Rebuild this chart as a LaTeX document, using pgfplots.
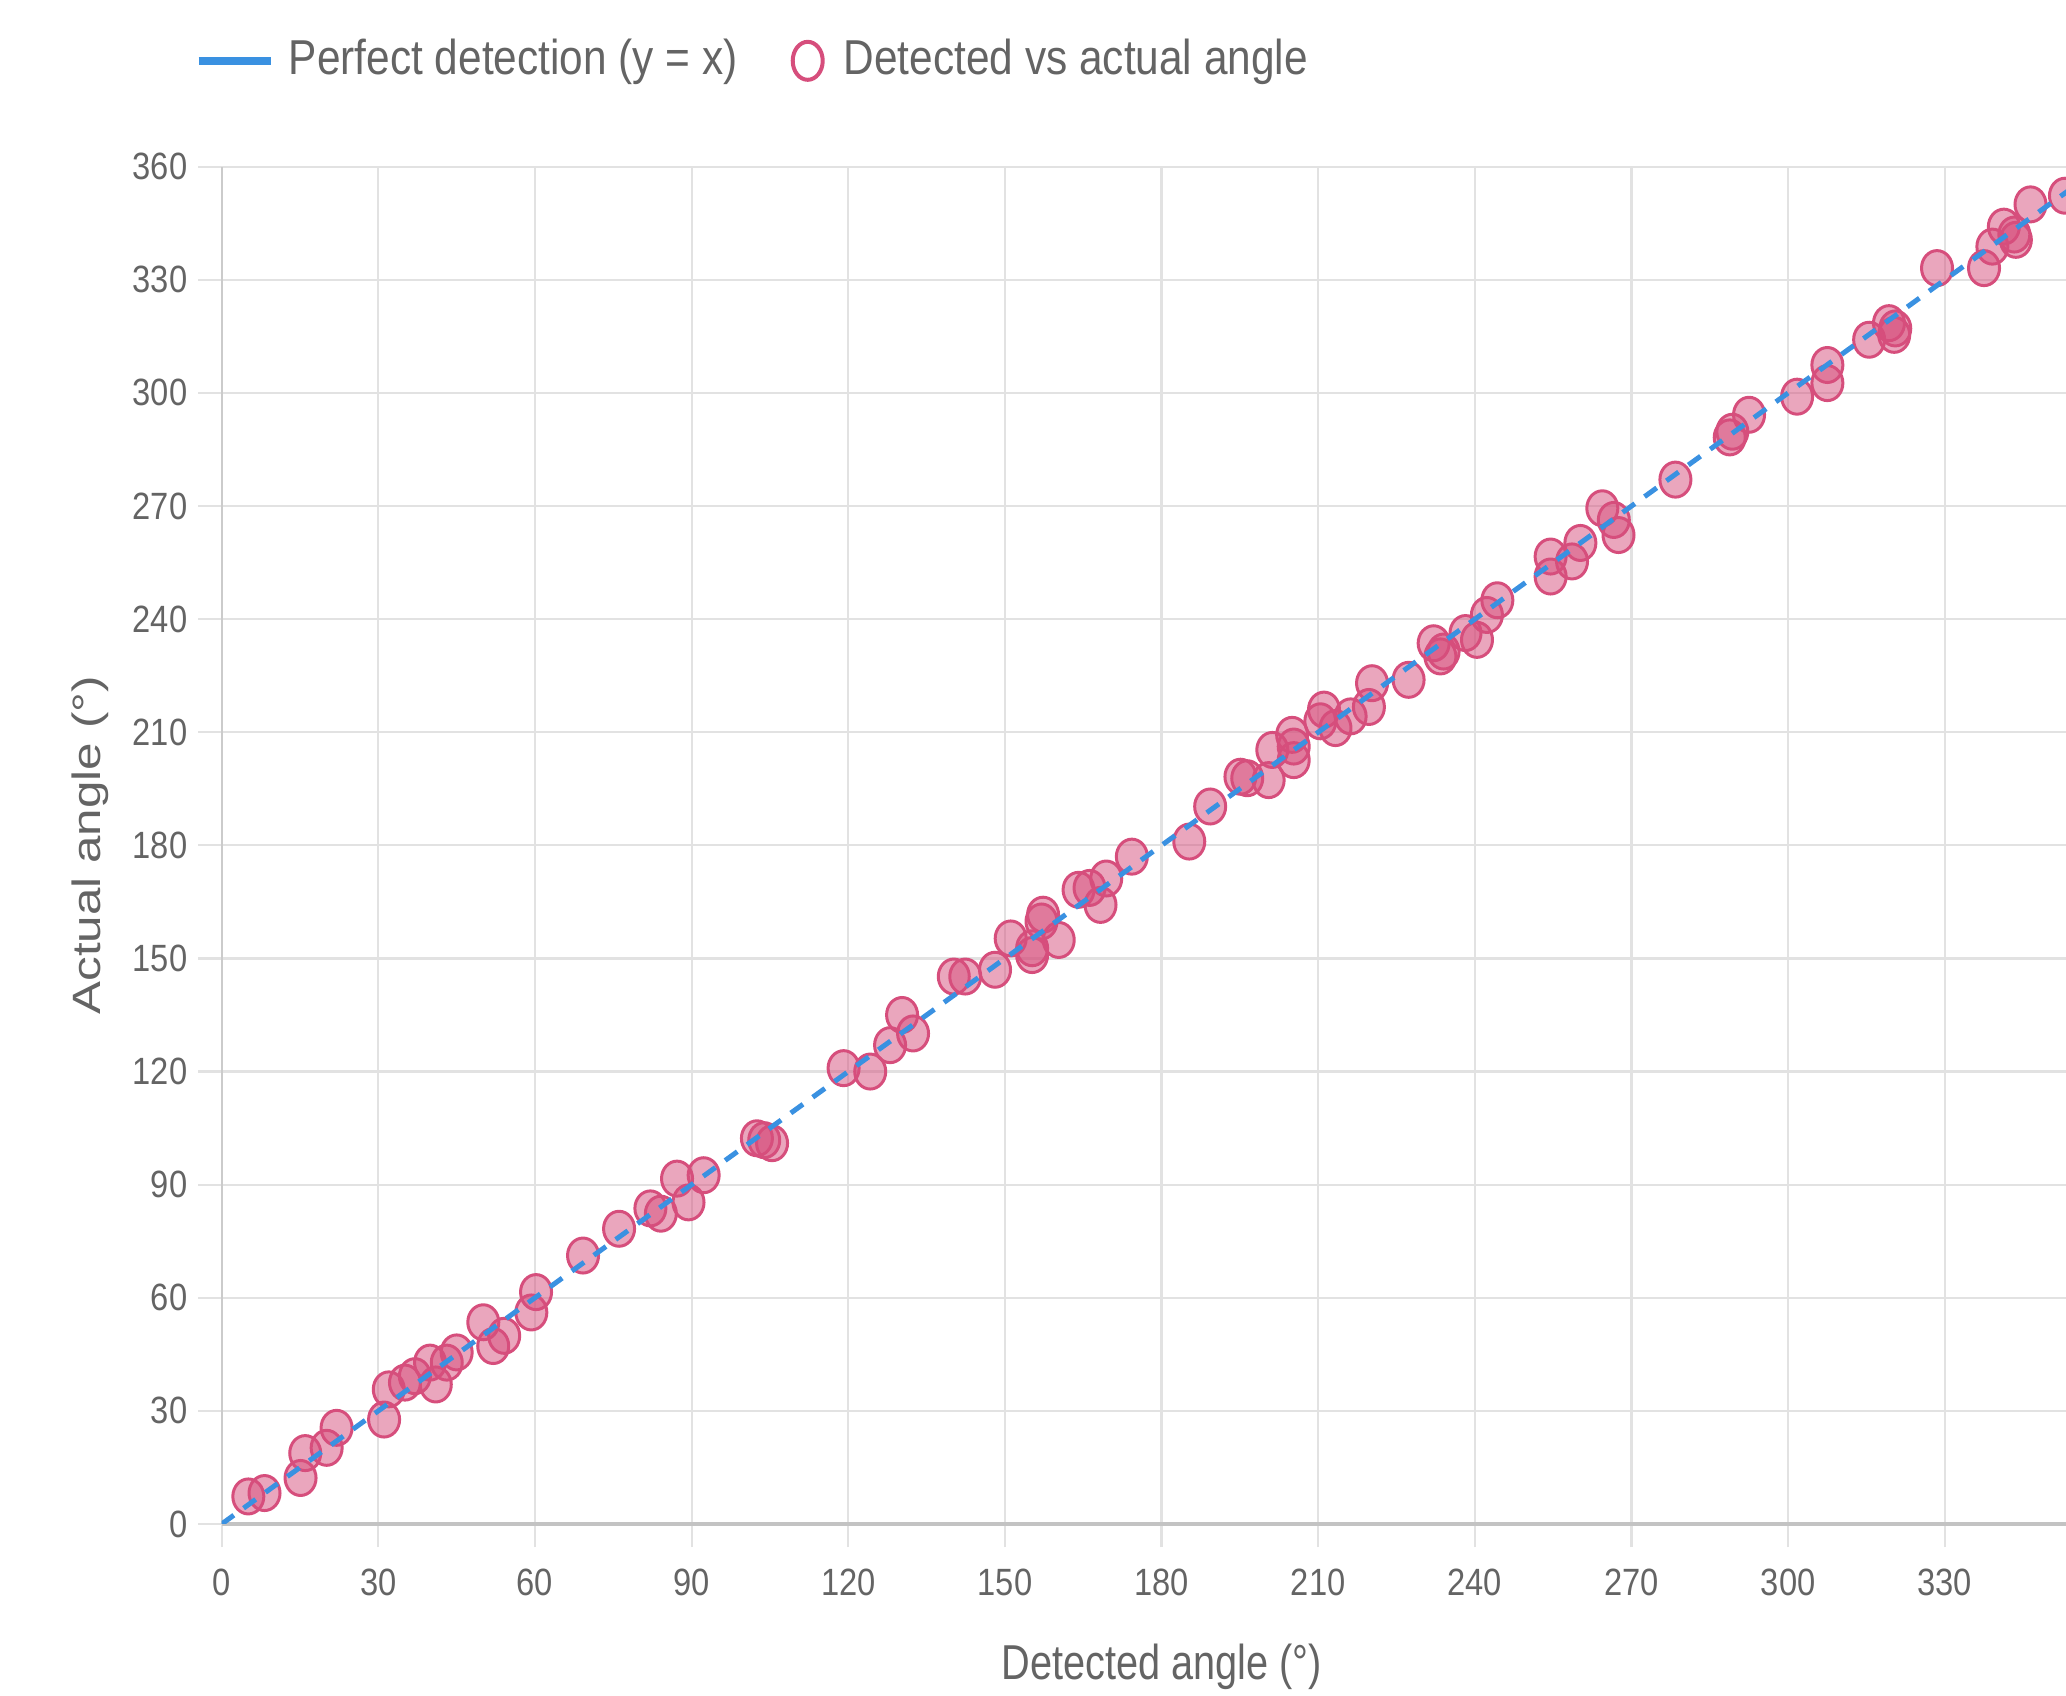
\documentclass[border=0pt]{standalone}
\usepackage{pgfplots}
\pgfplotsset{compat=1.18}
\usepackage{fontspec}
\setmainfont{Liberation Sans}
\newfontfamily\tickfont{Liberation Sans}[FakeStretch=0.86]
\newfontfamily\labfont{Liberation Sans}[FakeStretch=0.81]
\newfontfamily\legfont{Liberation Sans}[FakeStretch=0.865]
\newfontfamily\ylabfont{Liberation Sans}[FakeStretch=1.25]
\definecolor{gridc}{RGB}{226,226,226}
\definecolor{axc}{RGB}{195,195,195}
\definecolor{txtc}{RGB}{100,100,100}
\definecolor{linec}{RGB}{58,145,225}
\definecolor{ptc}{RGB}{214,78,124}
\pgfdeclareplotmark{oval}{\pgfpathellipse{\pgfpointorigin}{\pgfqpoint{3.1pt}{0pt}}{\pgfqpoint{0pt}{3.5pt}}\pgfusepathqfillstroke}
\pgfplotstableread{
x y
5.1 7.3
8.2 8.2
15.1 12.2
16.0 18.8
20.1 20.2
22.0 25.5
31.1 27.7
32.0 35.7
35.1 37.5
37.0 39.2
39.9 42.8
41.0 37.0
43.1 42.8
45.0 45.5
50.1 53.5
52.0 47.2
54.1 49.9
59.3 56.1
60.2 61.5
69.2 71.2
76.1 78.3
82.1 83.7
84.1 82.3
87.2 91.6
89.4 85.3
92.3 92.5
102.5 102.3
103.9 101.8
105.4 101.0
119.1 120.9
124.2 120.0
128.0 127.0
130.3 135.0
132.4 130.1
140.2 145.2
142.4 145.2
148.1 147.0
151.1 155.3
155.2 150.9
155.2 152.7
157.3 161.6
157.0 159.8
160.3 154.9
164.1 168.2
166.2 168.7
168.3 164.2
169.4 171.2
174.3 177.0
185.3 181.0
189.3 190.3
195.1 198.2
196.4 197.8
200.5 197.3
201.2 205.3
205.0 209.3
205.3 206.2
205.3 202.6
211.1 216.0
210.4 212.9
213.3 211.1
216.2 214.2
219.7 216.7
220.3 223.0
227.3 223.9
232.1 233.6
234.0 231.4
233.4 230.1
238.2 236.3
240.4 234.5
242.3 241.1
244.3 245.0
254.5 251.3
254.5 256.6
258.6 255.3
260.2 260.2
264.4 269.4
266.6 266.3
267.5 262.3
278.4 277.0
289.3 289.7
288.8 288.2
292.5 294.2
301.7 299.0
307.5 302.6
307.5 307.4
315.5 314.1
319.3 318.5
320.3 315.4
320.5 317.1
328.5 333.1
337.5 333.1
339.1 338.8
341.3 344.1
343.6 340.6
343.3 342.0
346.4 350.0
353.0 352.3
}\ptsdata
\begin{document}
\begin{tikzpicture}
\begin{axis}[
  at={(0,0)}, anchor=south west,
  scale only axis, width=368.86pt, height=271.46pt,
  xmin=0, xmax=353.2, ymin=0, ymax=360,
  axis lines=left, axis line style={-},
  x axis line style={color=axc, line width=0.65pt},
  y axis line style={color=gridc!90!black, line width=0.45pt},
  xtick={0,30,...,330}, ytick={0,30,...,360},
  grid=major, major grid style={color=gridc, line width=0.45pt},
  tick align=outside, major tick length=4.7pt,
  tick style={color=gridc, line width=0.45pt},
  ticklabel style={font=\tickfont\fontsize{7.6}{9}\selectfont, text=txtc},
  /pgf/number format/assume math mode=true,
  xticklabel style={inner sep=0pt, anchor=north, yshift=-4.1pt},
  yticklabel style={inner sep=0pt, anchor=east, xshift=-2.0pt},
  xlabel={Detected angle (°)},
  ylabel={Actual angle (°)},
  xlabel style={at={(rel axis cs:0.5096,-0.1052)}, anchor=center, font=\labfont\fontsize{9.8}{11}\selectfont, text=txtc},
  ylabel style={at={(rel axis cs:-0.0714,0.5)}, anchor=center, font=\ylabfont\fontsize{7.9}{9}\selectfont, text=txtc},
  clip marker paths=true,
  legend style={at={(rel axis cs:-0.0145,1.078)}, anchor=west, draw=none, fill=none,
    inner sep=0pt, outer sep=0pt, font=\legfont\fontsize{9.8}{11}\selectfont, text=txtc,
    nodes={inner sep=0pt, outer sep=0pt}, column sep=0pt,
    /tikz/every odd column/.append style={column sep=2.8pt},
    /tikz/every even column/.append style={column sep=10.6pt}},
  legend columns=-1,
]
\addlegendimage{legend image code/.code={\draw[linec, line width=1.5pt, solid] (0pt,0pt) -- (14.5pt,0pt);}}
\addlegendentry{Perfect detection (y = x)}
\addlegendimage{legend image code/.code={\draw[ptc, line width=0.8pt, fill=white] (3pt,0pt) ellipse [x radius=3pt, y radius=3.8pt]; \path (7.2pt,0pt);}}
\addlegendentry{Detected vs actual angle}
\addplot[only marks, mark=oval, mark options={draw=ptc, fill=ptc, fill opacity=0.5, line width=0.6pt}, forget plot] table[x=x, y=y] {\ptsdata};
\addplot[linec, line width=1.0pt, dash pattern=on 3pt off 2.4pt, forget plot] coordinates {(0,0) (360,360)};
\end{axis}
\pgfresetboundingbox
\path[use as bounding box] (-44.34pt,-34.4pt) rectangle (368.86pt,304.8pt);
\end{tikzpicture}
\end{document}
